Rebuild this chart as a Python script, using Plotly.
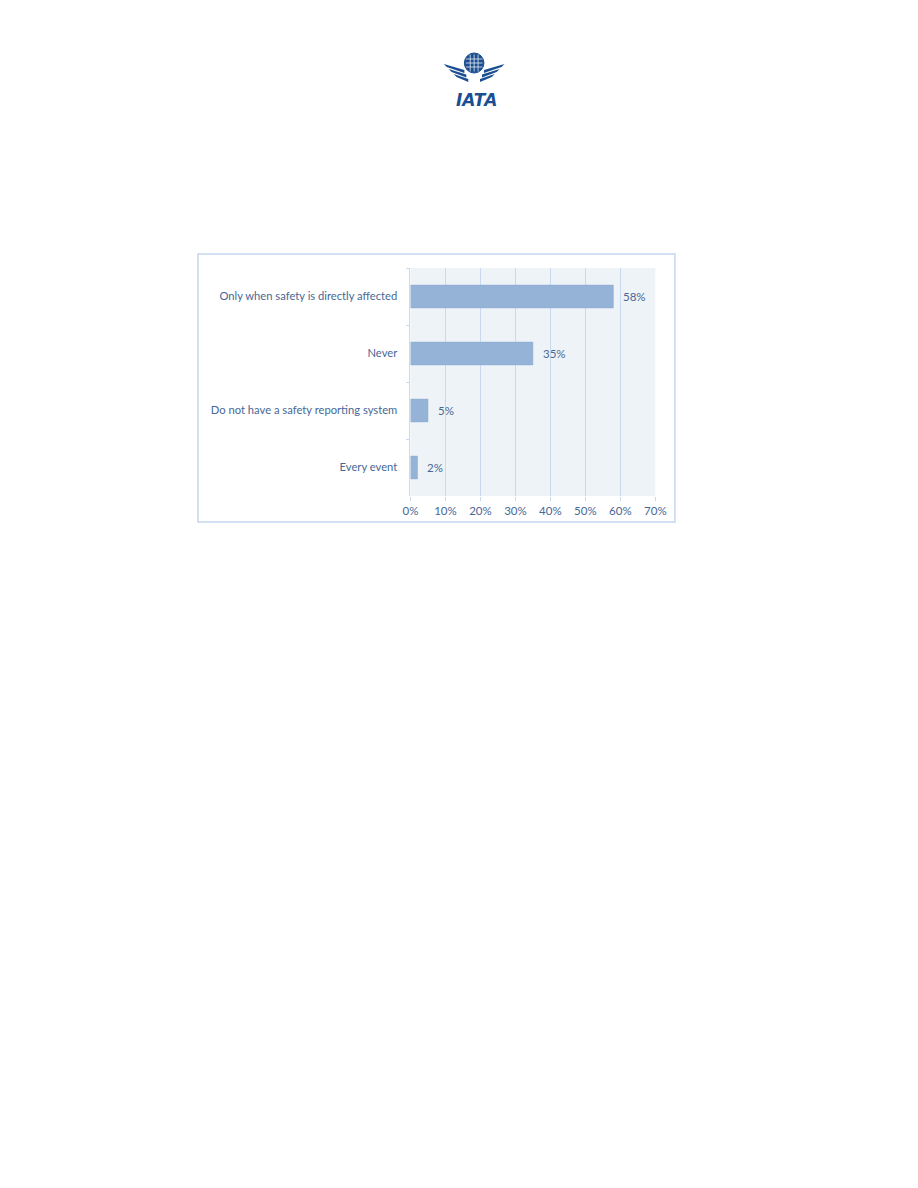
import plotly.graph_objects as go

categories = ["Only when safety is directly affected", "Never",
              "Do not have a safety reporting system", "Every event"]
values = [58, 35, 5, 2]
value_labels = ["58%", "35%", "5%", "2%"]
x_ticks = [0, 10, 20, 30, 40, 50, 60, 70]
x_tick_labels = ["0%", "10%", "20%", "30%", "40%", "50%", "60%", "70%"]

W, H = 918, 1188
TXT = "#476896"
FONT = "Lato"

fig = go.Figure()
fig.add_trace(go.Bar(
    y=categories, x=values, orientation="h",
    marker=dict(color="#95B3D7", line=dict(color="#8AAAD2", width=0.5)),
    hoverinfo="skip",
))
for cat, v, lab in zip(categories, values, value_labels):
    fig.add_annotation(x=v, y=cat, xref="x", yref="y", text=lab, showarrow=False,
                       xanchor="left", xshift=8,
                       font=dict(color=TXT, size=11.5, family=FONT))

px0, px1 = 411, 661
py0, py1 = 268, 496
fig.update_layout(
    width=W, height=H, margin=dict(l=0, r=0, t=0, b=0),
    paper_bgcolor="white", plot_bgcolor="#EEF3F8",
    showlegend=False, bargap=0.6,
    font=dict(family=FONT, color=TXT, size=11),
    xaxis=dict(domain=[px0 / W, px1 / W], range=[0, 70],
               tickvals=x_ticks, ticktext=x_tick_labels,
               showgrid=True, gridcolor="#C9DAEE", gridwidth=1,
               zeroline=False, showline=False,
               ticks="outside", ticklen=4, tickcolor="#C9DAEE",
               tickfont=dict(size=11.5, color=TXT, family=FONT), fixedrange=True),
    yaxis=dict(domain=[1 - py1 / H, 1 - py0 / H], autorange="reversed",
               showgrid=False, zeroline=False,
               showline=True, linecolor="#C9DAEE", linewidth=1,
               ticks="outside", ticklen=3, tickcolor="#C9DAEE", tickson="boundaries",
               ticklabelstandoff=10,
               tickfont=dict(size=11.2, color=TXT, family=FONT), fixedrange=True),
)

# chart border box
fig.add_shape(type="rect", xref="paper", yref="paper",
              x0=194 / W, x1=681 / W, y0=1 - 522 / H, y1=1 - 254 / H,
              line=dict(color="#C5D7EE", width=1.5), fillcolor="rgba(0,0,0,0)", layer="below")

# IATA logo (approximation)
LOGO = "#1B4F91"
cx, cy, r = 476, 63, 10
fig.add_shape(type="circle", xref="paper", yref="paper",
              x0=(cx - r) / W, x1=(cx + r) / W, y0=1 - (cy + r) / H, y1=1 - (cy - r) / H,
              line=dict(color=LOGO, width=1), fillcolor=LOGO)
for dx in (-4, 0, 4):
    fig.add_shape(type="line", xref="paper", yref="paper",
                  x0=(cx + dx) / W, x1=(cx + dx) / W, y0=1 - (cy + r - 1.5) / H, y1=1 - (cy - r + 1.5) / H,
                  line=dict(color="white", width=0.7))
for dy in (-4, 0, 4):
    fig.add_shape(type="line", xref="paper", yref="paper",
                  x0=(cx - r + 1.5) / W, x1=(cx + r - 1.5) / W, y0=1 - (cy + dy) / H, y1=1 - (cy + dy) / H,
                  line=dict(color="white", width=0.7))


def P(x, y):
    return f"{x / W} {1 - y / H}"


# wings: three slanted bands per side
for side in (-1, 1):
    for (ox, oy, ix, iy) in [(31, 64, 10, 70), (26, 69, 8, 74.5), (21, 74, 6, 79)]:
        x_out, x_in = cx + side * ox, cx + side * ix
        fig.add_shape(type="path", xref="paper", yref="paper",
                      path=f"M {P(x_out, oy)} L {P(x_in, iy)} L {P(x_in, iy + 3)} "
                           f"L {P(x_out + side * -3, oy + 3)} Z",
                      line=dict(width=0), fillcolor=LOGO)
fig.add_annotation(x=478 / W, y=1 - 88 / H, xref="paper", yref="paper",
                   text="<b><i>IATA</i></b>", showarrow=False,
                   font=dict(family="DejaVu Sans", size=17, color=LOGO))

post = (
    "document.documentElement.style.margin='0';"
    "document.body.style.margin='0';"
)
fig.write_html("out.html", post_script=post)
